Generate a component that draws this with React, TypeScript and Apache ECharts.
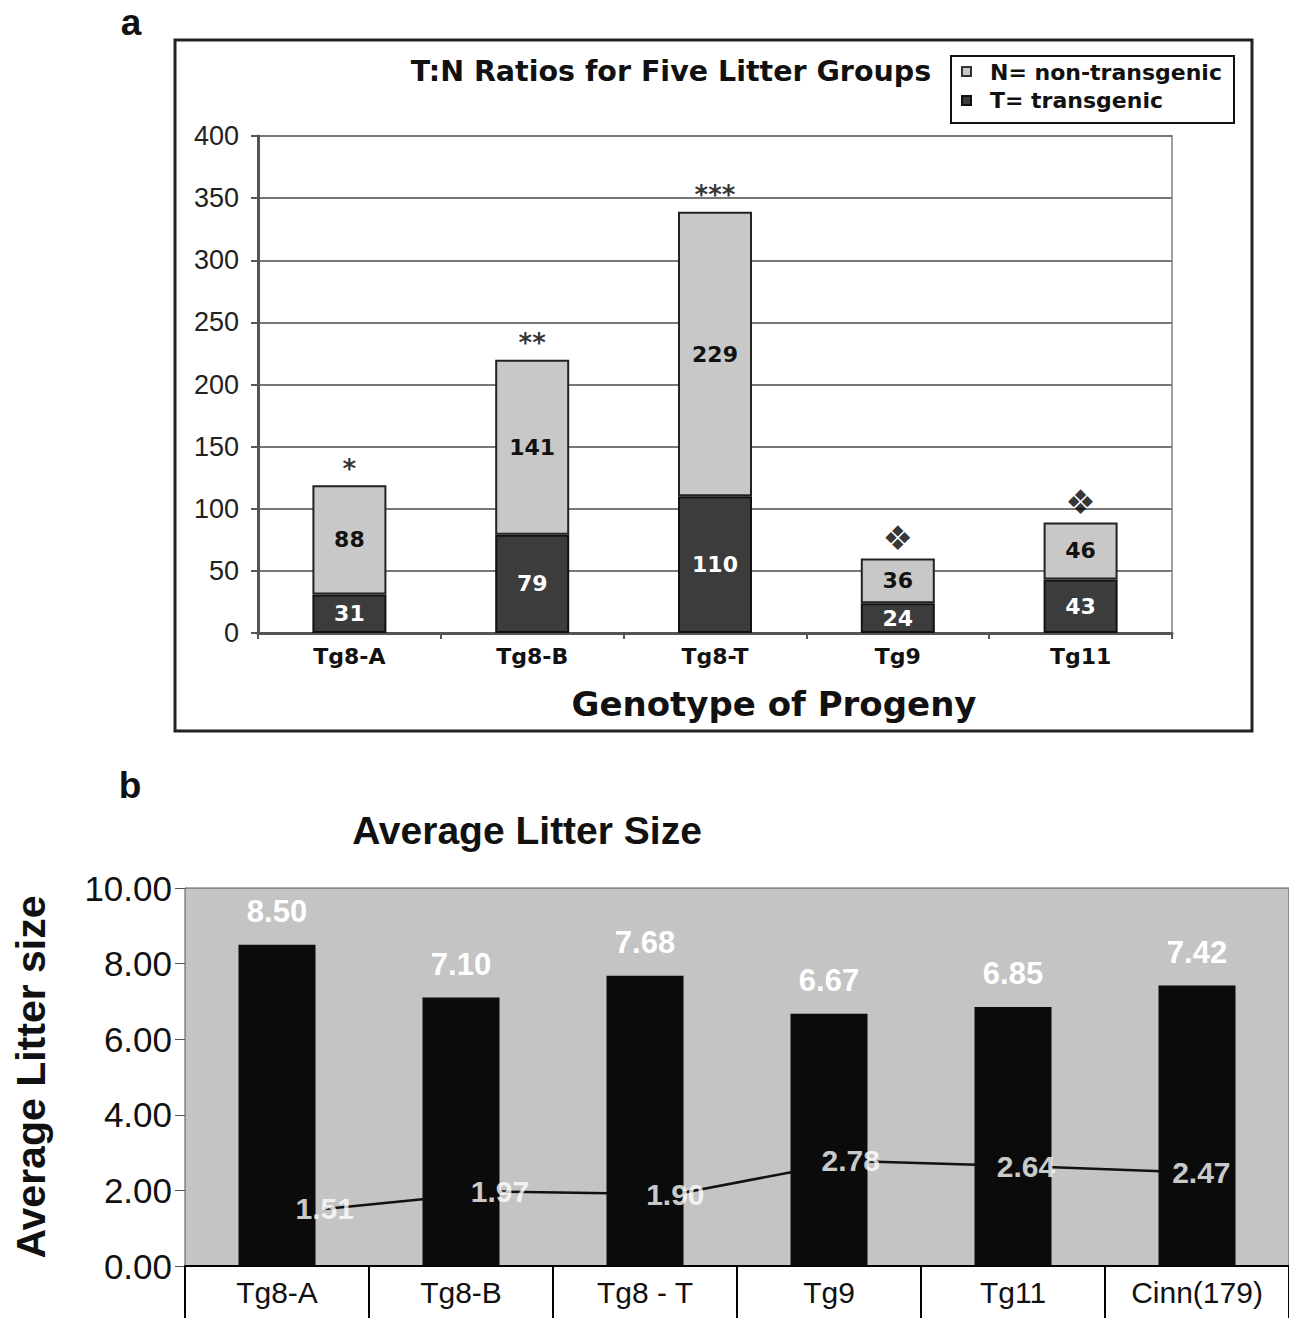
import React, { useEffect, useRef } from 'react';
import * as echarts from 'echarts';

// Panel a
const categoriesA = ['Tg8-A', 'Tg8-B', 'Tg8-T', 'Tg9', 'Tg11'];
const transgenic = [31, 79, 110, 24, 43];
const nonTransgenic = [88, 141, 229, 36, 46];
const significance = ['*', '**', '***', '\u2756', '\u2756'];
const legendLabels = ['N= non-transgenic', 'T= transgenic'];

// Panel b
const categoriesB = ['Tg8-A', 'Tg8-B', 'Tg8 - T', 'Tg9', 'Tg11', 'Cinn(179)'];
const avgLitter = [8.5, 7.1, 7.68, 6.67, 6.85, 7.42];
const ratioLine = [1.51, 1.97, 1.9, 2.78, 2.64, 2.47];

const SANS_A = 'DejaVu Sans';
const SANS_B = 'Liberation Sans, Arial, sans-serif';

export default function App() {
  const ref = useRef<HTMLDivElement>(null);
  useEffect(() => {
    const chart = echarts.init(ref.current!, null, { renderer: 'svg' });
    const totals = transgenic.map((t, i) => t + nonTransgenic[i]);
    const option: any = {
      animation: false,
      backgroundColor: '#ffffff',
      grid: [
        { left: 258, top: 136, width: 914, height: 497, show: true, borderColor: '#a0a0a0', borderWidth: 2, backgroundColor: 'transparent' },
        { left: 185, top: 888, width: 1104, height: 378, show: true, backgroundColor: '#c4c4c4', borderColor: '#555', borderWidth: 1 },
        { left: 237, top: 888, width: 1104, height: 378 },
      ],
      xAxis: [
        {
          gridIndex: 0, type: 'category', data: categoriesA,
          axisLine: { lineStyle: { color: '#555', width: 3 } },
          axisTick: { show: true, length: 6, lineStyle: { color: '#555', width: 2 } },
          axisLabel: { fontFamily: SANS_A, fontWeight: 'bold', fontSize: 22, color: '#111', margin: 12 },
        },
        {
          gridIndex: 1, type: 'category', data: categoriesB,
          axisLine: { lineStyle: { color: '#000', width: 2 } },
          axisTick: { show: true, length: 52, lineStyle: { color: '#000', width: 2 } },
          axisLabel: { fontFamily: SANS_B, fontSize: 30, color: '#111', margin: 11 },
        },
        { gridIndex: 2, type: 'category', data: categoriesB, show: false },
      ],
      yAxis: [
        {
          gridIndex: 0, type: 'value', min: 0, max: 400, interval: 50,
          axisLine: { show: true, lineStyle: { color: '#555', width: 3 } },
          axisTick: { show: true, length: 7, lineStyle: { color: '#555', width: 2 } },
          splitLine: { lineStyle: { color: '#777', width: 2 } },
          axisLabel: { fontFamily: SANS_B, fontSize: 27, color: '#222', margin: 19 },
        },
        {
          gridIndex: 1, type: 'value', min: 0, max: 10, interval: 2,
          axisLine: { show: false },
          axisTick: { show: true, length: 10, lineStyle: { color: '#555', width: 1 } },
          splitLine: { show: false },
          axisLabel: { fontFamily: SANS_B, fontSize: 35, color: '#111', margin: 13, formatter: (v: number) => v.toFixed(2) },
        },
        { gridIndex: 2, type: 'value', min: 0, max: 10, show: false },
      ],
      series: [
        {
          name: legendLabels[1], type: 'bar', xAxisIndex: 0, yAxisIndex: 0, stack: 'a', data: transgenic, barWidth: 74,
          itemStyle: { color: '#3c3c3c', borderColor: '#111', borderWidth: 2 },
          label: { show: true, position: 'inside', color: '#fff', fontFamily: SANS_A, fontWeight: 'bold', fontSize: 22 },
        },
        {
          name: legendLabels[0], type: 'bar', xAxisIndex: 0, yAxisIndex: 0, stack: 'a', data: nonTransgenic, barWidth: 74,
          itemStyle: { color: '#c8c8c8', borderColor: '#222', borderWidth: 2 },
          label: { show: true, position: 'inside', color: '#111', fontFamily: SANS_A, fontWeight: 'bold', fontSize: 22 },
        },
        {
          type: 'scatter', xAxisIndex: 0, yAxisIndex: 0, data: totals, symbolSize: 1,
          itemStyle: { color: 'rgba(0,0,0,0)' },
          label: {
            show: true, position: 'top', distance: 3, color: '#000', fontFamily: SANS_A, fontWeight: 'bold',
            formatter: (p: any) => '{' + (p.dataIndex < 3 ? 's' : 'd') + '|' + significance[p.dataIndex] + '}',
            rich: {
              s: { fontSize: 26, fontWeight: 'bold', color: '#000', fontFamily: SANS_A },
              d: { fontSize: 34, color: '#000', fontFamily: SANS_A, padding: [0, 0, 0, 0] },
            },
          },
        },
        {
          type: 'line', xAxisIndex: 2, yAxisIndex: 2, data: ratioLine, z: 1,
          showSymbol: false, lineStyle: { color: '#111', width: 2.5 },
        },
        {
          type: 'bar', xAxisIndex: 1, yAxisIndex: 1, data: avgLitter, barWidth: 77, z: 3,
          itemStyle: { color: '#0b0b0b' },
          label: { show: true, position: 'top', distance: 18, color: '#fff', fontFamily: SANS_B, fontWeight: 'bold', fontSize: 31, formatter: (p: any) => p.value.toFixed(2) },
        },
        {
          type: 'scatter', xAxisIndex: 2, yAxisIndex: 2, data: ratioLine, symbolSize: 1, z: 5,
          itemStyle: { color: 'rgba(0,0,0,0)' },
          label: { show: true, position: 'inside', color: '#fff', fontFamily: SANS_B, fontWeight: 'bold', fontSize: 30, formatter: (p: any) => p.value.toFixed(2) },
        },
      ],
      graphic: [
        { type: 'rect', shape: { x: 175, y: 40, width: 1077, height: 691 }, style: { fill: 'none', stroke: '#222', lineWidth: 3 }, z: 10 },
        { type: 'text', x: 131, y: 22, style: { text: 'a', font: 'bold 37px Liberation Sans, Arial', fill: '#111', textAlign: 'center', textVerticalAlign: 'middle' } },
        { type: 'text', x: 130, y: 785, style: { text: 'b', font: 'bold 37px Liberation Sans, Arial', fill: '#111', textAlign: 'center', textVerticalAlign: 'middle' } },
        { type: 'text', x: 671, y: 71, style: { text: 'T:N Ratios for Five Litter Groups', font: 'bold 28.5px DejaVu Sans', fill: '#111', textAlign: 'center', textVerticalAlign: 'middle' } },
        { type: 'text', x: 774, y: 704, style: { text: 'Genotype of Progeny', font: 'bold 34px DejaVu Sans', fill: '#111', textAlign: 'center', textVerticalAlign: 'middle' } },
        { type: 'rect', shape: { x: 951, y: 56, width: 283, height: 67 }, style: { fill: '#fff', stroke: '#111', lineWidth: 2 } },
        { type: 'rect', shape: { x: 962, y: 67, width: 9, height: 9 }, style: { fill: '#c8c8c8', stroke: '#333', lineWidth: 2 } },
        { type: 'rect', shape: { x: 962, y: 96, width: 9, height: 9 }, style: { fill: '#3c3c3c', stroke: '#111', lineWidth: 2 } },
        { type: 'text', x: 990, y: 72, style: { text: legendLabels[0], font: 'bold 22px DejaVu Sans', fill: '#111', textAlign: 'left', textVerticalAlign: 'middle' } },
        { type: 'text', x: 990, y: 100, style: { text: legendLabels[1], font: 'bold 22px DejaVu Sans', fill: '#111', textAlign: 'left', textVerticalAlign: 'middle' } },
        { type: 'text', x: 527, y: 830, style: { text: 'Average Litter Size', font: 'bold 39px Liberation Sans, Arial', fill: '#111', textAlign: 'center', textVerticalAlign: 'middle' } },
        { type: 'text', x: 31, y: 1077, rotation: Math.PI / 2, style: { text: 'Average Litter size', font: 'bold 41px Liberation Sans, Arial', fill: '#111', textAlign: 'center', textVerticalAlign: 'middle' } },
      ],
    };
    chart.setOption(option);
    return () => chart.dispose();
  }, []);
  return <div ref={ref} style={{ position: 'absolute', left: 0, top: 0, width: 1289, height: 1318 }} />;
}
